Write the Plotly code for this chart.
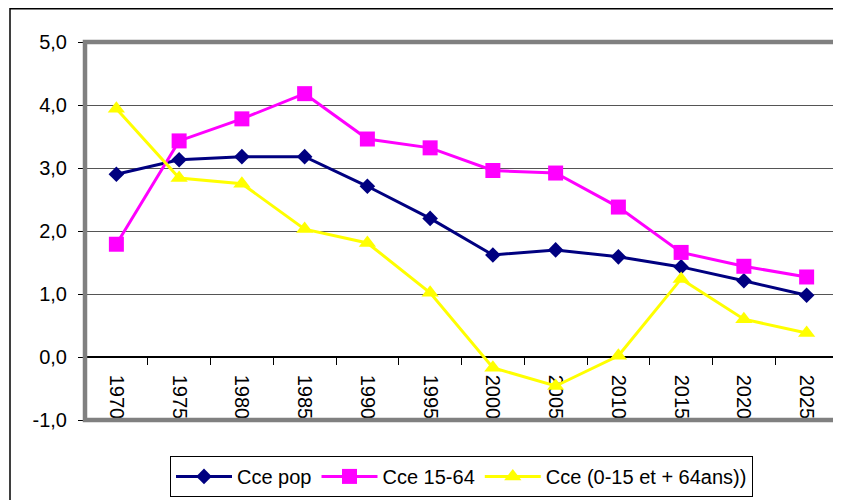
import plotly.graph_objects as go

# taux de croissance annuels moyens (%)
years = ['1970', '1975', '1980', '1985', '1990', '1995',
         '2000', '2005', '2010', '2015', '2020', '2025']
cce_pop = [2.90, 3.13, 3.18, 3.18, 2.71, 2.20, 1.62, 1.70, 1.59, 1.43, 1.21, 0.98]
cce_15_64 = [1.79, 3.43, 3.78, 4.18, 3.46, 3.32, 2.96, 2.92, 2.38, 1.66, 1.44, 1.27]
cce_autres = [3.94, 2.84, 2.75, 2.03, 1.81, 1.02, -0.17, -0.46, 0.02, 1.24, 0.60, 0.38]

ytick_vals = [-1, 0, 1, 2, 3, 4, 5]
ytick_text = ['-1,0', '0,0', '1,0', '2,0', '3,0', '4,0', '5,0']

series = [
    ('Cce pop', cce_pop, '#000080', 'diamond', 12),
    ('Cce 15-64', cce_15_64, '#FF00FF', 'square', 15),
    ('Cce (0-15 et + 64ans))', cce_autres, '#FFFF00', 'triangle-up', 15),
]

fig = go.Figure()
for name, vals, col, sym, sz in series:
    fig.add_trace(go.Scatter(x=years, y=vals, name=name, mode='lines+markers',
                             line=dict(color=col, width=3),
                             marker=dict(symbol=sym, size=sz, color=col)))

# la page ajoute une marge de 8 px autour du graphique
fig.update_layout(
    width=833, height=492,
    margin=dict(l=77, r=3, t=34, b=80),
    paper_bgcolor='white', plot_bgcolor='white',
    font=dict(family='Liberation Sans, Arial, sans-serif', size=20, color='black'),
    showlegend=True,
    legend=dict(orientation='h', x=0.5, xanchor='center', y=-0.095, yanchor='top',
                bordercolor='black', borderwidth=1, font=dict(size=20),
                itemwidth=56),
    xaxis=dict(type='category', range=[-0.5, 11.5], anchor='free', position=1/6,
               showline=True, linecolor='black', linewidth=1.5,
               ticks='outside', tickson='boundaries', ticklen=7, tickcolor='black',
               tickangle=90, ticklabelstandoff=13, showgrid=False,
               layer='below traces', automargin=False),
    yaxis=dict(range=[-1, 5], tickvals=ytick_vals, ticktext=ytick_text,
               ticks='outside', ticklen=6, tickcolor='black', ticklabelstandoff=7,
               showgrid=True, gridcolor='#555555', gridwidth=1,
               zeroline=False, showline=False, automargin=False),
    shapes=[
        # cadre gris de la zone de tracé
        dict(type='rect', xref='paper', yref='paper', x0=0, x1=1, y0=0, y1=1,
             line=dict(color='#808080', width=4.5), layer='above'),
        # bordure du graphique
        dict(type='rect', xref='paper', yref='paper', x0=-0.0996, x1=1.2,
             y0=-0.5, y1=1.088, line=dict(color='black', width=1.5)),
    ],
)

fig.write_html('out.html')
